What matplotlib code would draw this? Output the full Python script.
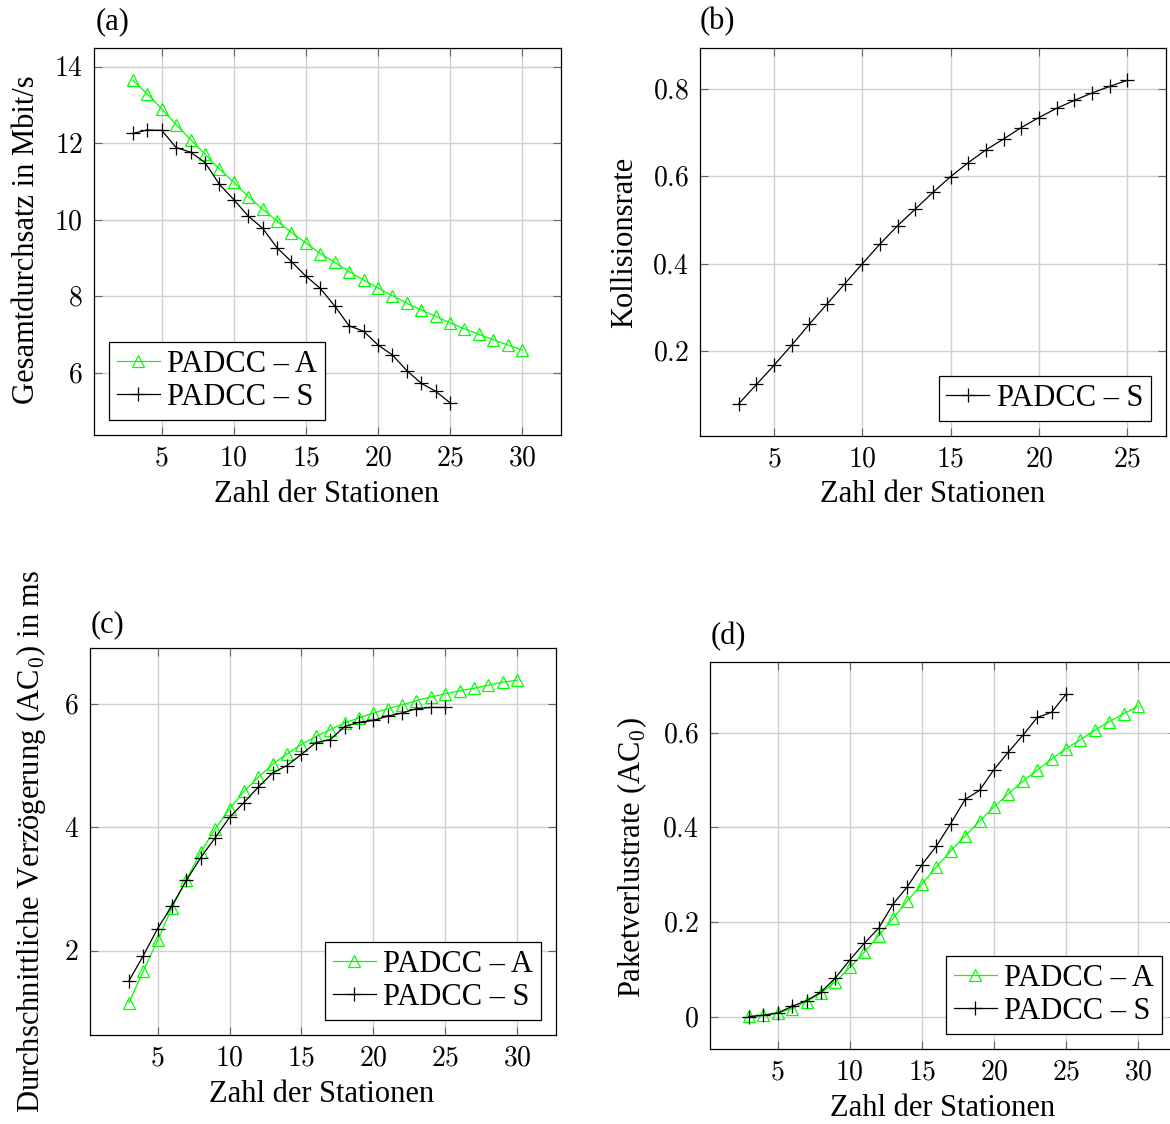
import numpy as np
import matplotlib
matplotlib.use("Agg")
import matplotlib.pyplot as plt
from matplotlib.ticker import FixedLocator, FuncFormatter

plt.rcParams['font.family'] = ['Liberation Serif', 'DejaVu Serif']
plt.rcParams['mathtext.fontset'] = 'cm'

# === data ===
n_a = list(range(3, 31))
n_s = list(range(3, 26))

thr_a = [13.65, 13.29, 12.90, 12.49, 12.10, 11.72, 11.33, 10.98, 10.61, 10.28,
         9.97, 9.67, 9.40, 9.12, 8.89, 8.65, 8.43, 8.22, 8.02, 7.82,
         7.65, 7.48, 7.31, 7.15, 7.01, 6.87, 6.73, 6.60]
thr_s = [12.26, 12.35, 12.34, 11.89, 11.77, 11.50, 10.93, 10.53, 10.10, 9.78,
         9.27, 8.91, 8.53, 8.21, 7.75, 7.23, 7.09, 6.73, 6.47, 6.06,
         5.73, 5.52, 5.22]

coll_s = [0.080, 0.124, 0.168, 0.214, 0.262, 0.308, 0.354, 0.400, 0.445, 0.487,
          0.525, 0.563, 0.599, 0.631, 0.660, 0.685, 0.711, 0.734, 0.755, 0.773,
          0.790, 0.805, 0.819]

delay_a = [1.16, 1.67, 2.17, 2.70, 3.15, 3.60, 3.97, 4.30, 4.58, 4.81,
           5.02, 5.19, 5.34, 5.47, 5.58, 5.69, 5.77, 5.85, 5.92, 5.98,
           6.05, 6.11, 6.16, 6.21, 6.25, 6.30, 6.35, 6.38]
delay_s = [1.51, 1.92, 2.36, 2.73, 3.14, 3.51, 3.83, 4.16, 4.40, 4.65,
           4.88, 5.00, 5.18, 5.37, 5.42, 5.63, 5.70, 5.73, 5.80, 5.85,
           5.92, 5.94, 5.94]

loss_a = [0.002, 0.0035, 0.008, 0.017, 0.032, 0.050, 0.074, 0.104, 0.136, 0.171,
          0.208, 0.245, 0.280, 0.316, 0.350, 0.382, 0.413, 0.443, 0.471, 0.497,
          0.521, 0.544, 0.566, 0.585, 0.605, 0.623, 0.640, 0.656]
loss_s = [0.000, 0.003, 0.008, 0.022, 0.034, 0.052, 0.082, 0.120, 0.155, 0.187,
          0.238, 0.275, 0.321, 0.360, 0.408, 0.459, 0.478, 0.522, 0.559, 0.594,
          0.632, 0.643, 0.681]

lab_a = "PADCC \u2013 A"
lab_s = "PADCC \u2013 S"
xlabel = "Zahl der Stationen"

W, H = 1170, 1124
FS = 22
TFS = 20
GREEN = '#00ff00'

fig = plt.figure(figsize=(W / 100, H / 100), dpi=100)


def add_ax(l, r, t, b):
    return fig.add_axes([l / W, 1 - b / H, (r - l) / W, (b - t) / H])


def ftext(x, y, s, **kw):
    fig.text(x / W, 1 - y / H, s, ha='center', va='center', fontsize=FS, **kw)


def style(ax, xticks, yticks):
    ax.margins(0.1)
    ax.xaxis.set_major_locator(FixedLocator(xticks))
    ax.yaxis.set_major_locator(FixedLocator(yticks))
    fmt = FuncFormatter(lambda v, p: f"${v:g}$")
    ax.xaxis.set_major_formatter(fmt)
    ax.yaxis.set_major_formatter(fmt)
    ax.grid(color='#cfcfcf', lw=1.0)
    ax.set_axisbelow(True)
    ax.tick_params(direction='in', top=True, right=True, length=6, width=0.8,
                   color='#666666', labelsize=TFS)
    ax.tick_params(axis='x', pad=8)
    ax.tick_params(axis='y', pad=8)
    for sp in ax.spines.values():
        sp.set_linewidth(0.9)


def plot_a(ax, x, y):
    ax.plot(x, y, color=GREEN, lw=0.9, marker='^', ms=8, mfc='none',
            mec=GREEN, mew=0.9, label=lab_a)


def plot_s(ax, x, y):
    ax.plot(x, y, color='black', lw=0.9, marker='+', ms=10, mew=0.9,
            label=lab_s)


def legend(ax, loc):
    leg = ax.legend(loc=loc, fancybox=False, edgecolor='black', framealpha=1,
                    fontsize=FS, handlelength=1.4, handletextpad=0.25,
                    borderpad=0.25, labelspacing=0.15, borderaxespad=0.5)
    leg.get_frame().set_linewidth(0.9)


# (a) throughput
ax1 = add_ax(94, 561, 48, 435)
plot_a(ax1, n_a, thr_a)
plot_s(ax1, n_s, thr_s)
style(ax1, [5, 10, 15, 20, 25, 30], [6, 8, 10, 12, 14])
legend(ax1, 'lower left')

# (b) collision rate
ax2 = add_ax(700, 1166, 48, 436)
plot_s(ax2, n_s, coll_s)
style(ax2, [5, 10, 15, 20, 25], [0.2, 0.4, 0.6, 0.8])
legend(ax2, 'lower right')

# (c) delay
ax3 = add_ax(90, 556, 648, 1035)
plot_a(ax3, n_a, delay_a)
plot_s(ax3, n_s, delay_s)
style(ax3, [5, 10, 15, 20, 25, 30], [2, 4, 6])
legend(ax3, 'lower right')

# (d) packet loss
ax4 = add_ax(710, 1177, 662, 1049)
plot_a(ax4, n_a, loss_a)
plot_s(ax4, n_s, loss_s)
style(ax4, [5, 10, 15, 20, 25, 30], [0, 0.2, 0.4, 0.6])
legend(ax4, 'lower right')

# panel tags
ftext(113, 22, "(a)")
ftext(717, 22, "(b)")
ftext(107, 625, "(c)")
ftext(728, 637, "(d)")

# axis labels
ftext(327, 495, xlabel)
ftext(933, 495, xlabel)
ftext(322, 1095, xlabel)
ftext(943, 1108, xlabel)

ftext(27, 240, "Gesamtdurchsatz in Mbit/s", rotation=90)
ftext(625, 242, "Kollisionsrate", rotation=90)
ftext(31, 841, "Durchschnittliche Verz\u00f6gerung (AC$_0$) in ms", rotation=90)
ftext(632, 857, "Paketverlustrate (AC$_0$)", rotation=90)

fig.savefig("out.png", dpi=100)
